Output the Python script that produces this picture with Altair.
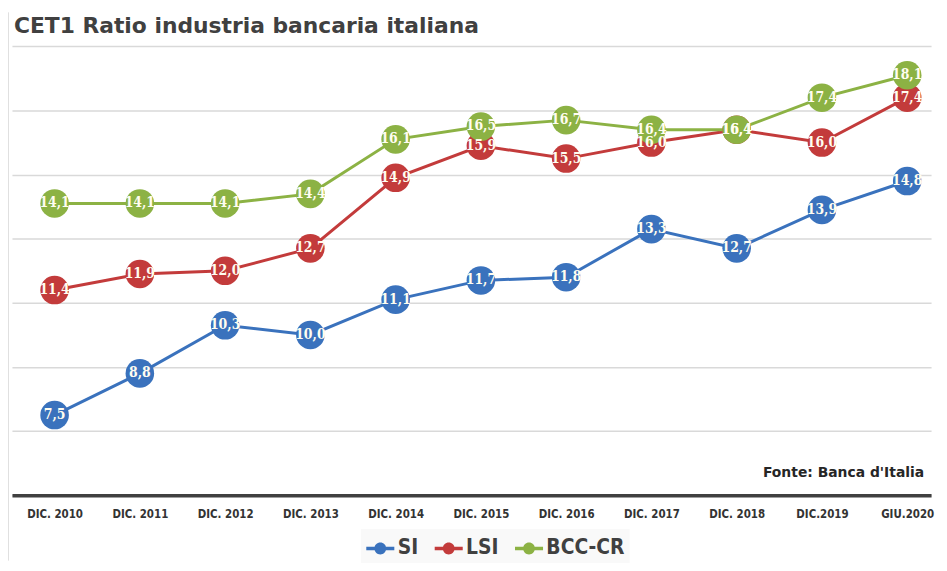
import altair as alt
import pandas as pd

categories = ["DIC. 2010", "DIC. 2011", "DIC. 2012", "DIC. 2013", "DIC. 2014", "DIC. 2015",
              "DIC. 2016", "DIC. 2017", "DIC. 2018", "DIC.2019", "GIU.2020"]
series_names = ["SI", "LSI", "BCC-CR"]
si = [7.5, 8.8, 10.3, 10.0, 11.1, 11.7, 11.8, 13.3, 12.7, 13.9, 14.8]
lsi = [11.4, 11.9, 12.0, 12.7, 14.9, 15.9, 15.5, 16.0, 16.4, 16.0, 17.4]
bcc = [14.1, 14.1, 14.1, 14.4, 16.1, 16.5, 16.7, 16.4, 16.4, 17.4, 18.1]
colors = ["#3a72bd", "#c33b3b", "#8cb244"]
title_text = "CET1 Ratio industria bancaria italiana"
source_text = "Fonte: Banca d'Italia"

rows = []
for name, vals in zip(series_names, [si, lsi, bcc]):
    for i, v in enumerate(vals):
        rows.append({"serie": name, "idx": i, "cat": categories[i], "val": v,
                     "lab": f"{v:.1f}".replace(".", ","), "ord": series_names.index(name)})
df = pd.DataFrame(rows)

W, H = 927, 485
label_expr = "[" + ",".join("'" + c + "'" for c in categories) + "][datum.value]"

x = alt.X("idx:Q", scale=alt.Scale(domain=[-0.5, 10.28], nice=False, zero=False),
          axis=alt.Axis(values=list(range(len(categories))), labelExpr=label_expr, title=None,
                        grid=False, ticks=False, domain=True, domainColor="#404040", domainWidth=3.5,
                        labelFont="DejaVu Sans Condensed", labelFontWeight="bold", labelFontSize=11.5,
                        labelColor="#333333", labelPadding=13))
y = alt.Y("val:Q", scale=alt.Scale(domain=[5, 20], nice=False, zero=False),
          axis=alt.Axis(values=[5, 7, 9, 11, 13, 15, 17, 19], labels=False, ticks=False, domain=False,
                        title=None, grid=True, gridColor="#d9d9d9", gridWidth=1.5))
color_scale = alt.Scale(domain=series_names, range=colors)

sym = ("M-1,-0.12 L1,-0.12 L1,0.12 L-1,0.12 Z "
       "M0.42,0 A0.42,0.42 0 1 1 -0.42,0 A0.42,0.42 0 1 1 0.42,0 Z")
legend = alt.Legend(title=None, orient="none", direction="horizontal",
                    legendX=352, legendY=519, symbolType=sym, symbolSize=800,
                    symbolStrokeWidth=0,
                    labelFont="DejaVu Sans Condensed",
                    labelFontWeight="bold", labelFontSize=21, labelColor="#404040",
                    columnPadding=16, labelOffset=3, fillColor="#f9f9f9",
                    padding=5, labelLimit=200)

base = alt.Chart(df)

lines = base.mark_line(strokeWidth=3).encode(
    x=x, y=y, color=alt.Color("serie:N", scale=color_scale, legend=legend), detail="serie:N",
    order="idx:Q")

points = base.mark_point(filled=True, opacity=1, size=830, shape="circle", strokeWidth=0).encode(
    x=x, y=y,
    color=alt.Color("serie:N", scale=color_scale, legend=legend),
    order=alt.Order("ord:Q"))

labels = base.mark_text(font="DejaVu Serif Condensed", fontWeight="bold", fontSize=14,
                        color="#fffdf0", baseline="middle", align="center").encode(
    x=x, y=y, text="lab:N")

source = alt.Chart(pd.DataFrame({"t": [source_text]})).mark_text(
    font="DejaVu Sans", fontWeight="bold", fontSize=14, color="#262626", align="right",
    baseline="middle").encode(x=alt.value(920), y=alt.value(463), text="t:N")

title = alt.Chart(pd.DataFrame({"t": [title_text]})).mark_text(
    font="DejaVu Sans", fontWeight="bold", fontSize=22, color="#404040", align="left",
    baseline="middle").encode(x=alt.value(2), y=alt.value(12), text="t:N")

frame = alt.Chart(pd.DataFrame({"a": [0]})).mark_rule(color="#bfbfbf", strokeWidth=1).encode(
    x=alt.value(-4), y=alt.value(-2), y2=alt.value(551))

chart = alt.layer(frame, lines, points, labels, source, title).properties(
    width=W, height=H,
    background="white",
    autosize=alt.AutoSizeParams(type="none"),
    padding={"left": 4, "top": 4, "right": 8, "bottom": 66},
).configure_view(strokeWidth=0, stroke="transparent")

chart.save("out.html", embed_options={"renderer": "svg", "actions": False})
